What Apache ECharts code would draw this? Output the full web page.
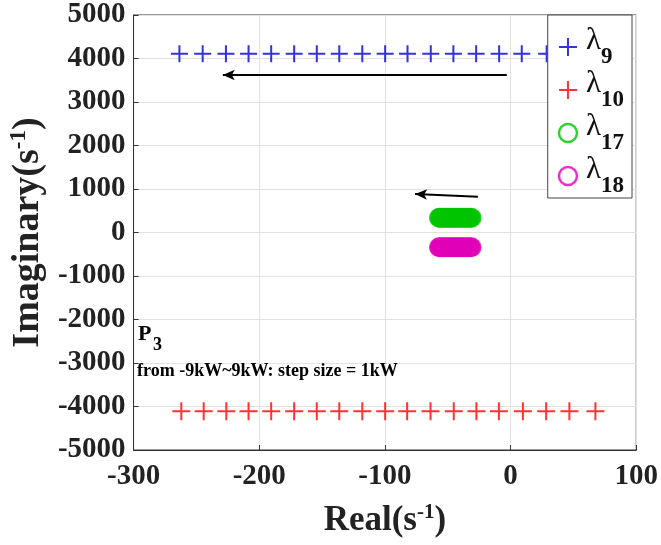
<!DOCTYPE html>
<html><head><meta charset="utf-8">
<script src="https://cdn.jsdelivr.net/npm/echarts@6/dist/echarts.min.js"></script>
<style>html,body{margin:0;padding:0;background:#fff}#c{width:661px;height:545px}</style>
</head><body><div id="c"></div>
<script>
// data
const lambda9X  = [-263.5,-245,-226.5,-208.5,-190.5,-172.2,-154.2,-136.3,-118,-99.8,-82,-63.5,-45.5,-27.4,-9.1,8.9,28.7,47,67];
const lambda9Y  = [4110,4110,4110,4110,4110,4110,4110,4110,4110,4110,4110,4110,4110,4110,4110,4110,4110,4110,4110];
const lambda10X = [-262,-244.2,-226.2,-208.5,-190.5,-172.2,-154.2,-136.3,-118,-99.8,-82.3,-63.7,-45.2,-27.2,-9.3,9.8,28.3,46.8,67.5];
const lambda10Y = [-4110,-4110,-4110,-4110,-4110,-4110,-4110,-4110,-4110,-4110,-4110,-4110,-4110,-4110,-4110,-4110,-4110,-4110,-4110];
const lambda17X = [-31,-32.4,-34,-35.5,-37.1,-38.6,-40.1,-41.6,-43.1,-44.6,-46,-47.5,-49,-50.4,-51.9,-53.3,-54.8,-56,-57];
const lambda17Y = [340,340,340,340,340,340,340,340,340,340,340,340,340,340,340,340,340,340,340];
const lambda18X = [-31,-32.4,-34,-35.5,-37.1,-38.6,-40.1,-41.6,-43.1,-44.6,-46,-47.5,-49,-50.4,-51.9,-53.3,-54.8,-56,-57];
const lambda18Y = [-340,-340,-340,-340,-340,-340,-340,-340,-340,-340,-340,-340,-340,-340,-340,-340,-340,-340,-340];
const arrow1 = [[-3, 3620], [-229, 3620]];
const arrow2 = [[-26, 823], [-76, 885]];
const xTicks = {min: -300, max: 100, interval: 100};
const yTicks = {min: -5000, max: 5000, interval: 1000};
const seriesNames = ['λ9', 'λ10', 'λ17', 'λ18'];

const FONT = 'Liberation Serif';
const GREEN = '#00c400', MAGENTA = '#e000b8';
const zip = (a, b) => a.map((v, i) => [v, b[i]]);
const plus = 'path://M0,5L10,5M5,0L5,10';

const chart = echarts.init(document.getElementById('c'));
chart.setOption({
  animation: false,
  backgroundColor: '#fff',
  grid: {left: 133, right: 24, top: 15, bottom: 95, show: true, borderColor: '#333', borderWidth: 1},
  xAxis: {
    type: 'value', min: xTicks.min, max: xTicks.max, interval: xTicks.interval,
    axisLine: {show: true, onZero: false, lineStyle: {color: '#333', width: 1}},
    axisTick: {inside: true, length: 5, lineStyle: {color: '#333'}},
    splitLine: {lineStyle: {color: '#e2e2e2'}},
    axisLabel: {color: '#222', fontFamily: FONT, fontWeight: 'bold', fontSize: 29, margin: 12,
                formatter: v => String(v)},
    name: '{a|Real(s}{b|-1}{a|)}', nameLocation: 'middle', nameGap: 52,
    nameTextStyle: {rich: {
      a: {fontFamily: FONT, fontWeight: 'bold', fontSize: 35, color: '#222'},
      b: {fontFamily: FONT, fontWeight: 'bold', fontSize: 21, color: '#222', padding: [0,0,16,0]}
    }}
  },
  yAxis: {
    type: 'value', min: yTicks.min, max: yTicks.max, interval: yTicks.interval,
    axisLine: {show: true, onZero: false, lineStyle: {color: '#333', width: 1}},
    axisTick: {inside: true, length: 5, lineStyle: {color: '#333'}},
    splitLine: {lineStyle: {color: '#e2e2e2'}},
    axisLabel: {color: '#222', fontFamily: FONT, fontWeight: 'bold', fontSize: 29, margin: 8,
                formatter: v => String(v)},
    name: '{a|Imaginary(s}{b|-1}{a|)}', nameLocation: 'middle', nameGap: 84, nameRotate: 90,
    nameTextStyle: {rich: {
      a: {fontFamily: FONT, fontWeight: 'bold', fontSize: 38, color: '#222'},
      b: {fontFamily: FONT, fontWeight: 'bold', fontSize: 23, color: '#222', padding: [0,0,17,0]}
    }}
  },
  legend: {
    orient: 'vertical', right: 29, top: 15,
    data: [
      {name: seriesNames[0]},
      {name: seriesNames[1]},
      {name: seriesNames[2], itemStyle: {color: 'rgba(0,0,0,0)', borderColor: GREEN, borderWidth: 2.5}},
      {name: seriesNames[3], itemStyle: {color: 'rgba(0,0,0,0)', borderColor: MAGENTA, borderWidth: 2.5}}
    ],
    backgroundColor: '#fff', borderColor: '#444', borderWidth: 1,
    padding: [10, 8, 0, 10], itemGap: -1, itemWidth: 18, itemHeight: 18,
    formatter: n => '{l|λ}{s|' + n.slice(1) + '}',
    textStyle: {rich: {
      l: {fontFamily: FONT, fontSize: 31, color: '#111', lineHeight: 44, padding: [0,0,0,4], verticalAlign: 'top'},
      s: {fontFamily: FONT, fontWeight: 'bold', fontSize: 23, color: '#111', verticalAlign: 'bottom'}
    }}
  },
  graphic: [
    {type: 'text', left: 138, top: 323, z: 10, style: {
      text: 'P', font: 'bold 22px "Liberation Serif"', fill: '#000'}},
    {type: 'text', left: 153, top: 336, z: 10, style: {
      text: '3', font: 'bold 18px "Liberation Serif"', fill: '#000'}},
    {type: 'text', left: 137, top: 362, z: 10, style: {
      text: 'from -9kW~9kW: step size = 1kW',
      font: 'bold 18px "Liberation Serif"', fill: '#000'}}
  ],
  series: [
    {name: 'λ9', type: 'scatter', symbol: plus, symbolSize: 17, data: zip(lambda9X, lambda9Y),
     itemStyle: {color: '#0000cc', borderColor: '#0000cc', borderWidth: 2}},
    {name: 'λ10', type: 'scatter', symbol: plus, symbolSize: 18, data: zip(lambda10X, lambda10Y),
     itemStyle: {color: '#ff0000', borderColor: '#ff0000', borderWidth: 2}},
    {name: 'λ17', type: 'scatter', symbol: 'circle', symbolSize: 18, data: zip(lambda17X, lambda17Y),
     itemStyle: {color: GREEN, borderColor: GREEN, borderWidth: 2}},
    {name: 'λ18', type: 'scatter', symbol: 'circle', symbolSize: 18, data: zip(lambda18X, lambda18Y),
     itemStyle: {color: MAGENTA, borderColor: MAGENTA, borderWidth: 2}},
    {type: 'line', data: [], silent: true,
     markLine: {silent: true, symbol: ['none', 'arrow'], symbolSize: [8, 12], label: {show: false},
       lineStyle: {color: '#000', width: 2, type: 'solid'},
       data: [
         [{coord: arrow1[0]}, {coord: arrow1[1]}],
         [{coord: arrow2[0]}, {coord: arrow2[1]}]
       ]}}
  ]
});
</script></body></html>
